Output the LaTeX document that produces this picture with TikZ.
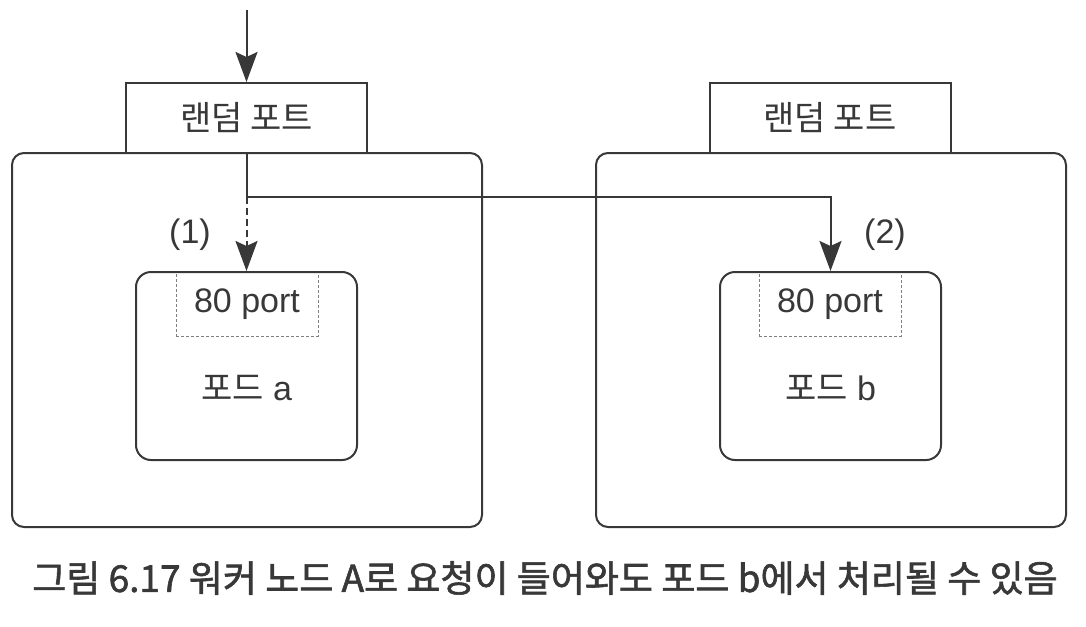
\documentclass[tikz,border=0pt]{standalone}
\usepackage{fontspec}
\setmainfont{Liberation Sans}
\newfontfamily\kr{Noto Sans CJK KR}
\newfontfamily\krbold[FakeBold=1.6]{Noto Sans CJK KR}
\usetikzlibrary{arrows.meta}

\definecolor{ink}{HTML}{383838}

\begin{document}
\begin{tikzpicture}[x=1pt,y=-1pt,
  line width=2pt, draw=ink,
  every node/.style={text=ink, font=\fontsize{34}{40}\selectfont},
  hostbox/.style={rectangle, draw, rounded corners=12pt, minimum width=470pt, minimum height=374pt},
  portbox/.style={rectangle, draw, fill=white, minimum width=241pt, minimum height=70pt},
  podbox/.style={rectangle, draw, rounded corners=15pt, minimum width=221pt, minimum height=188pt},
  listen/.style={rectangle, draw=gray, densely dashed, line width=1pt, minimum width=142pt, minimum height=64pt},
  arr/.style={-{Stealth[length=30pt,width=22pt,inset=5pt]}}]
\useasboundingbox (0,0) rectangle (1086,626);

% worker node A
\node[hostbox] (hostA) at (247,340) {};
\node[portbox] (rndA) at (246.5,118) {\kr 랜덤 포트};
\node[listen] (lsnA) at (247,304) {80 port};
\node[podbox] (podA) at (246.5,366) {};
\node (nameA) at (246.5,388) {{\kr 포드} a};

% worker node B
\node[hostbox] (hostB) at (831,340) {};
\node[portbox] (rndB) at (830,118) {\kr 랜덤 포트};
\node[listen] (lsnB) at (830,304) {80 port};
\node[podbox] (podB) at (830.5,366) {};
\node (nameB) at (830.5,388) {{\kr 포드} b};

% request paths
\coordinate (in) at (246.5,10);
\draw[arr] (in) -- (rndA.north);
\draw (rndA.south) -- ++(0,43) coordinate (split);
\draw[arr, dash pattern=on 7pt off 4pt] (split) -- (podA.north);
\draw[arr] (split) -| (podB.north);
\node (stepA) at (190,235) {(1)};
\node (stepB) at (885,235) {(2)};

\node (caption) at (545,578) {\krbold\fontsize{37}{42}\selectfont 그림 6.17 워커 노드 A로 요청이 들어와도 포드 b에서 처리될 수 있음};
\end{tikzpicture}
\end{document}
